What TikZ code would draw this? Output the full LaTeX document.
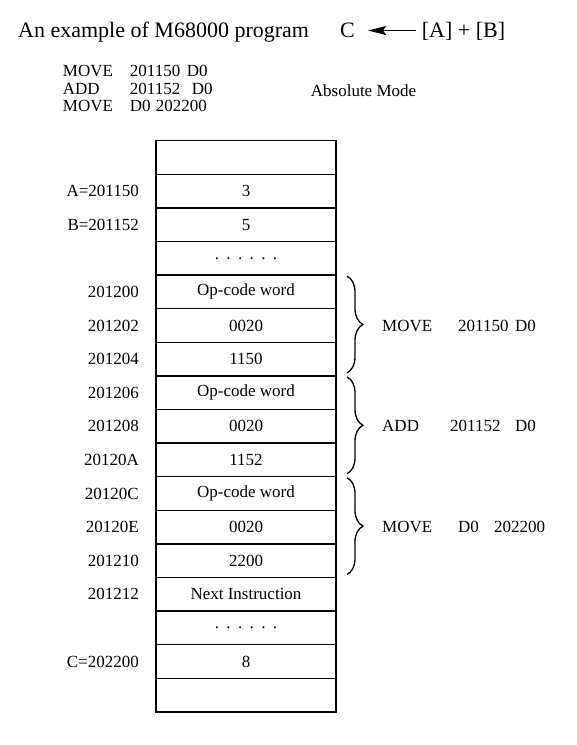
\documentclass[tikz,border=0pt]{standalone}
\usepackage{fontspec}
\setmainfont{Liberation Serif}
\usetikzlibrary{arrows.meta, positioning, decorations.pathreplacing}

\begin{document}
\begin{tikzpicture}[
    x=1pt, y=-1pt,
    cell/.style={draw, line width=1.3pt, minimum width=180pt,
                 minimum height=33.6pt, inner sep=0pt, outer sep=0pt,
                 font=\fontsize{17}{20}\selectfont},
    addr/.style={inner sep=0pt, font=\fontsize{17}{20}\selectfont},
    brc/.style={decorate, decoration={brace, amplitude=16pt}, line width=1.3pt},
    arr/.style={-{Stealth[length=18pt, width=9pt, inset=3pt]}, line width=1.3pt},
]
    \useasboundingbox (0,0) rectangle (577,745);

    % Title
    \node[addr, anchor=base west, font=\fontsize{22}{24}\selectfont] (title) at (18,37.7) {An example of M68000 program};
    \node[addr, anchor=base west, font=\fontsize{22}{24}\selectfont] (lhs) at (340,37.7) {C};
    \node[addr, anchor=base west, font=\fontsize{22}{24}\selectfont] (rhs) at (421.7,37.7) {[A] + [B]};
    \draw[arr, shorten >=13pt, shorten <=6pt] (rhs.west |- lhs.east) -- (lhs.east);

    % Program
    \node[addr, anchor=north west, align=left, font=\fontsize{17}{17.5}\selectfont] (prog) at (62.7,65.2)
        {\makebox[67pt][l]{MOVE}\makebox[57pt][l]{201150}D0\\
         \makebox[67pt][l]{ADD}\makebox[62pt][l]{201152}D0\\
         \makebox[67pt][l]{MOVE}\makebox[26pt][l]{D0}202200};
    \node[addr, anchor=base west] (mode) at (310.7,96.5) {Absolute Mode};

    % Memory
    \node[cell] (blanktop) at (246,157.5) {};
    \node[cell, below=0pt of blanktop] (cella) {3};
    \node[cell, below=0pt of cella] (cellb) {5};
    \node[cell, below=0pt of cellb] (dotsa) {.\hspace{7.4pt}.\hspace{7.4pt}.\hspace{7.4pt}.\hspace{7.4pt}.\hspace{7.4pt}.};
    \node[cell, below=0pt of dotsa] (opmove) {Op-code word};
    \node[cell, below=0pt of opmove] (extmove) {0020};
    \node[cell, below=0pt of extmove] (absmove) {1150};
    \node[cell, below=0pt of absmove] (opadd) {Op-code word};
    \node[cell, below=0pt of opadd] (extadd) {0020};
    \node[cell, below=0pt of extadd] (absadd) {1152};
    \node[cell, below=0pt of absadd] (opstore) {Op-code word};
    \node[cell, below=0pt of opstore] (extstore) {0020};
    \node[cell, below=0pt of extstore] (absstore) {2200};
    \node[cell, below=0pt of absstore] (next) {Next Instruction};
    \node[cell, below=0pt of next] (dotsb) {.\hspace{7.4pt}.\hspace{7.4pt}.\hspace{7.4pt}.\hspace{7.4pt}.\hspace{7.4pt}.};
    \node[cell, below=0pt of dotsb] (cellc) {8};
    \node[cell, below=0pt of cellc] (blankbot) {};

    % Addresses
    \node[addr, left=17pt of cella] (laba) {A=201150};
    \node[addr, left=17pt of cellb] (labb) {B=201152};
    \node[addr, left=17pt of opmove] (lab200) {201200};
    \node[addr, left=17pt of extmove] (lab202) {201202};
    \node[addr, left=17pt of absmove] (lab204) {201204};
    \node[addr, left=17pt of opadd] (lab206) {201206};
    \node[addr, left=17pt of extadd] (lab208) {201208};
    \node[addr, left=17pt of absadd] (lab20a) {20120A};
    \node[addr, left=17pt of opstore] (lab20c) {20120C};
    \node[addr, left=17pt of extstore] (lab20e) {20120E};
    \node[addr, left=17pt of absstore] (lab210) {201210};
    \node[addr, left=17pt of next] (lab212) {201212};
    \node[addr, left=17pt of cellc] (labc) {C=202200};

    % Braces
    \draw[brc] ([xshift=11pt, yshift=-1pt]opmove.north east) -- ([xshift=11pt, yshift=3pt]absmove.south east);
    \draw[brc] ([xshift=11pt, yshift=-1pt]opadd.north east) -- ([xshift=11pt, yshift=3pt]absadd.south east);
    \draw[brc] ([xshift=11pt, yshift=-1pt]opstore.north east) -- ([xshift=11pt, yshift=3pt]absstore.south east);
    \node[addr, right=46pt of extmove] (insmove) {\makebox[76pt][l]{MOVE}\makebox[57pt][l]{201150}D0};
    \node[addr, right=46pt of extadd] (insadd) {\makebox[68pt][l]{ADD}\makebox[65pt][l]{201152}D0};
    \node[addr, right=46pt of extstore] (insstore) {\makebox[76pt][l]{MOVE}\makebox[36pt][l]{D0}202200};
\end{tikzpicture}
\end{document}
